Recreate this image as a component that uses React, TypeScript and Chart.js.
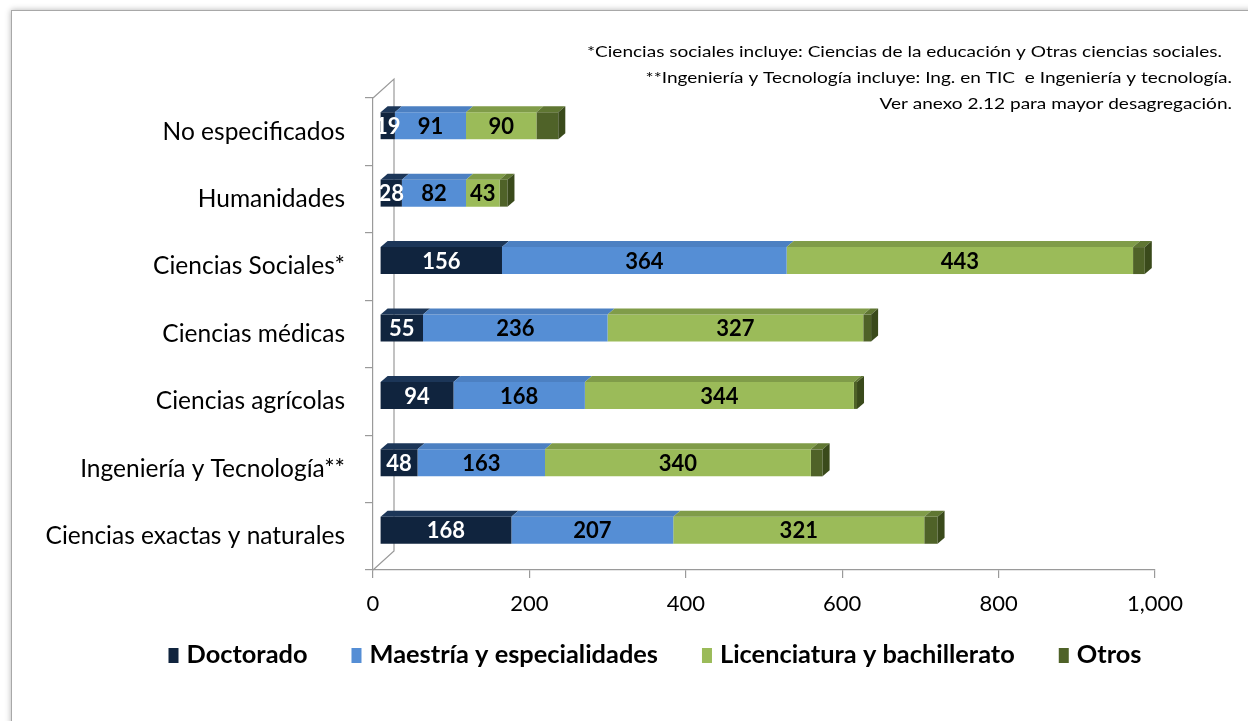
import React, { useEffect, useRef } from "react";
import { Chart, registerables } from "chart.js";

Chart.register(...registerables);

// ---------------- data ----------------
const categories = [
  "No especificados",
  "Humanidades",
  "Ciencias Sociales*",
  "Ciencias médicas",
  "Ciencias agrícolas",
  "Ingeniería y Tecnología**",
  "Ciencias exactas y naturales",
];
const seriesNames = [
  "Doctorado",
  "Maestría y especialidades",
  "Licenciatura y bachillerato",
  "Otros",
];
const doctorado = [19, 28, 156, 55, 94, 48, 168];
const maestria = [91, 82, 364, 236, 168, 163, 207];
const licenciatura = [90, 43, 443, 327, 344, 340, 321];
const otros = [28, 10, 15, 10, 4, 15, 17];
const xTicks = [0, 200, 400, 600, 800, 1000];
const notes = [
  "*Ciencias sociales incluye: Ciencias de la educación y Otras ciencias sociales.",
  "**Ingeniería y Tecnología incluye: Ing. en TIC  e Ingeniería y tecnología.",
  "Ver anexo 2.12 para mayor desagregación.",
];

// ---------------- styles ----------------
const frontColors = ["#10243E", "#558ED5", "#9BBB59", "#4F6228"];
const topColors = ["#1C3658", "#4C80C2", "#809C49", "#5F7632"];
const sideColor = "#3A4A1B";
const labelColors = ["#FFFFFF", "#000000", "#000000", null];
const FONT = "Lato, 'Open Sans', sans-serif";
const DX = 7;
const DY = -6;
const AXIS = "#9a9a9a";

function fitText(ctx: CanvasRenderingContext2D, text: string, x: number, y: number, sx: number, align: CanvasTextAlign) {
  ctx.save();
  ctx.translate(x, y);
  ctx.scale(sx, 1);
  ctx.textAlign = align;
  ctx.fillText(text, 0, 0);
  ctx.restore();
}

const threeD = {
  id: "threeD",
  beforeDatasetsDraw(chart: any) {
    const { ctx, chartArea } = chart;
    const { left, top, bottom } = chartArea;
    // side wall outline
    ctx.save();
    ctx.strokeStyle = AXIS;
    ctx.lineWidth = 1.2;
    ctx.beginPath();
    ctx.moveTo(left, top);
    ctx.lineTo(left + 3 * DX, top + 3 * DY - 1);
    ctx.lineTo(left + 3 * DX, bottom + 3 * DY - 1);
    ctx.lineTo(left, bottom);
    ctx.stroke();
    ctx.restore();
    ctx.save();
    ctx.translate(DX, DY);
  },
  afterDatasetsDraw(chart: any) {
    const ctx: CanvasRenderingContext2D = chart.ctx;
    const n = chart.data.datasets.length;
    chart.data.datasets.forEach((_: any, i: number) => {
      const meta = chart.getDatasetMeta(i);
      meta.data.forEach((bar: any) => {
        const { x, y, base, height } = bar.getProps(["x", "y", "base", "height"], true);
        const t = y - height / 2;
        ctx.fillStyle = topColors[i];
        ctx.beginPath();
        ctx.moveTo(base, t);
        ctx.lineTo(x, t);
        ctx.lineTo(x + DX, t + DY);
        ctx.lineTo(base + DX, t + DY);
        ctx.closePath();
        ctx.fill();
        if (i === n - 1) {
          ctx.fillStyle = sideColor;
          ctx.beginPath();
          ctx.moveTo(x, t);
          ctx.lineTo(x + DX, t + DY);
          ctx.lineTo(x + DX, t + height + DY);
          ctx.lineTo(x, t + height);
          ctx.closePath();
          ctx.fill();
        }
      });
    });
    // value labels
    ctx.font = `bold 22px ${FONT}`;
    ctx.textAlign = "center";
    ctx.textBaseline = "middle";
    chart.data.datasets.forEach((ds: any, i: number) => {
      const col = labelColors[i];
      if (!col) return;
      const meta = chart.getDatasetMeta(i);
      meta.data.forEach((bar: any, j: number) => {
        const { x, y, base } = bar.getProps(["x", "y", "base"], true);
        ctx.fillStyle = col;
        ctx.fillText(String(ds.data[j]), (base + x) / 2, y + 1);
      });
    });
    ctx.restore();
  },
  afterDraw(chart: any) {
    const ctx: CanvasRenderingContext2D = chart.ctx;
    // notes (top right)
    ctx.save();
    ctx.fillStyle = "#000";
    ctx.textBaseline = "middle";
    ctx.font = `15px ${FONT}`;
    const w0 = ctx.measureText(notes[0]).width;
    const sx = 635 / w0;
    const rights = [1222, 1232, 1232];
    const ys = [52, 78, 104];
    notes.forEach((t, i) => fitText(ctx, t, rights[i], ys[i], sx, "right"));
    ctx.restore();

    // legend
    ctx.save();
    ctx.font = `bold 24px ${FONT}`;
    ctx.textBaseline = "middle";
    const box = 10, boxGap = 8, itemGap = 44;
    const widths = seriesNames.map((s) => ctx.measureText(s).width);
    const natural = widths.reduce((a, b) => a + b, 0);
    const fixed = seriesNames.length * (box + boxGap) + (seriesNames.length - 1) * itemGap;
    const target = 973;
    const lsx = (target - fixed) / natural;
    const total = fixed + natural * lsx;
    let cx = 655 - total / 2;
    const ly = 655;
    seriesNames.forEach((s, i) => {
      ctx.fillStyle = frontColors[i];
      ctx.fillRect(cx, ly - 7, box, 15);
      cx += box + boxGap;
      ctx.fillStyle = "#000";
      fitText(ctx, s, cx, ly, lsx, "left");
      cx += widths[i] * lsx + itemGap;
    });
    ctx.restore();
  },
};

export default function App() {
  const ref = useRef<HTMLCanvasElement | null>(null);
  useEffect(() => {
    if (!ref.current) return;
    const mk = (i: number, data: number[]) => ({
      label: seriesNames[i],
      data,
      backgroundColor: frontColors[i],
      borderWidth: 0,
      barPercentage: 0.4,
      categoryPercentage: 1,
    });
    const chart = new Chart(ref.current, {
      type: "bar",
      data: {
        labels: categories,
        datasets: [mk(0, doctorado), mk(1, maestria), mk(2, licenciatura), mk(3, otros)],
      },
      plugins: [threeD],
      options: {
        indexAxis: "y",
        animation: false,
        responsive: false,
        maintainAspectRatio: false,
        layout: { padding: { left: 0, right: 93, top: 98, bottom: 0 } },
        plugins: { legend: { display: false }, tooltip: { enabled: false } },
        scales: {
          x: {
            stacked: true,
            min: xTicks[0],
            max: xTicks[xTicks.length - 1],
            afterBuildTicks: (s: any) => {
              s.ticks = xTicks.map((v) => ({ value: v }));
            },
            ticks: {
              color: "#000",
              font: { family: FONT, size: 22 },
              padding: 13,
              callback: (v: any) => Number(v).toLocaleString("en-US"),
            },
            grid: { drawOnChartArea: false, tickLength: 8, color: AXIS, lineWidth: 1.2 },
            border: { color: AXIS, width: 1.2 },
            afterFit: (s: any) => {
              s.height = 151;
            },
          },
          y: {
            stacked: true,
            ticks: { color: "#000", font: { family: FONT, size: 24.5 }, padding: 20 },
            grid: { drawOnChartArea: false, tickLength: 8, color: AXIS, lineWidth: 1.2, offset: true },
            border: { color: AXIS, width: 1.2 },
            afterFit: (s: any) => {
              s.width = 373;
            },
          },
        },
      } as any,
    });
    return () => chart.destroy();
  }, []);

  return (
    <div style={{ position: "fixed", left: 0, top: 0, width: 1248, height: 721, overflow: "hidden", background: "#fff" }}>
      <div
        style={{
          position: "absolute",
          left: 11,
          top: 10,
          width: 1400,
          height: 900,
          border: "1px solid #a8a8a8",
          boxShadow: "0 0 6px rgba(0,0,0,0.3)",
          background: "#fff",
        }}
      />
      <canvas ref={ref} width={1248} height={721} style={{ position: "absolute", left: 0, top: 0 }} />
    </div>
  );
}
